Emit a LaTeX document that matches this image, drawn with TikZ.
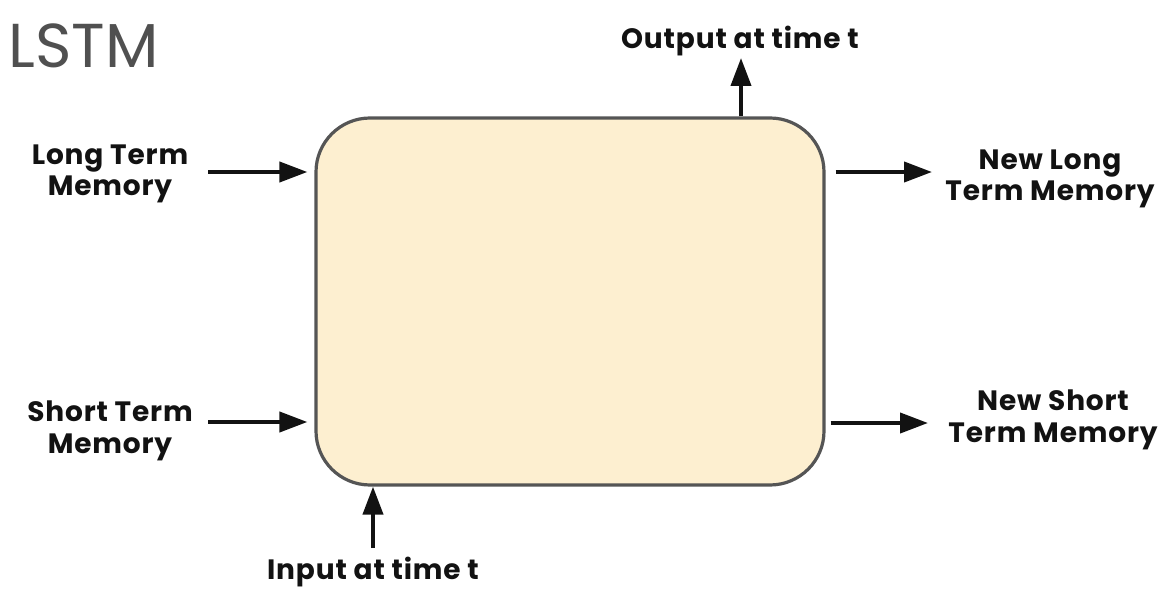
\documentclass[tikz,border=0pt]{standalone}
\usepackage{fontspec}
\setmainfont{Poppins}[LetterSpace=3]
\usepackage{tikz}
\usetikzlibrary{arrows.meta}
\definecolor{boxfill}{HTML}{FDEFD0}
\definecolor{boxline}{HTML}{555555}
\definecolor{titlegray}{HTML}{505050}

\begin{document}
\begin{tikzpicture}[x=0.5pt,y=0.5pt,
  lbl/.style={font=\bfseries\fontsize{14}{15.8}\selectfont, align=center, text=black!93},
  arr/.style={-{Triangle[length=14pt,width=10pt]}, line width=2pt, black!93}]
\useasboundingbox (0,0) rectangle (1163,596);
\node[anchor=base west, inner sep=0pt, text=titlegray, font=\addfontfeature{LetterSpace=0}\fontsize{31}{31}\selectfont] (title) at (8,528) {LSTM};
\node[draw=boxline, fill=boxfill, line width=1.6pt, rounded corners=27pt, minimum width=254pt, minimum height=183.5pt] (box) at (570,294.5) {};
\node[lbl] (ltm) at (110,422) {Long Term\\Memory};
\node[lbl] (stm) at (110,165) {Short Term\\Memory};
\node[lbl] (nltm) at (1050,417) {New Long\\Term Memory};
\node[lbl] (nstm) at (1053,176) {New Short\\Term Memory};
\node[lbl] (out) at (740,555) {Output at time t};
\node[lbl] (inp) at (373,24) {Input at time t};
\coordinate (ltm tail) at (208,424);
\coordinate (stm tail) at (208,174);
\coordinate (nltm tip) at (932,424);
\coordinate (nstm tip) at (928,173);
\coordinate (out tip) at (741,538);
\coordinate (inp tail) at (373,48);
\draw[arr, shorten >=3.5pt] (ltm tail) -- (box.west |- ltm tail);
\draw[arr, shorten >=3.5pt] (stm tail) -- (box.west |- stm tail);
\draw[arr, shorten <=5pt] (box.east |- nltm tip) -- (nltm tip);
\draw[arr, shorten <=2.5pt] (box.east |- nstm tip) -- (nstm tip);
\draw[arr] (box.north -| out tip) -- (out tip);
\draw[arr] (inp tail) -- (box.south -| inp tail);
\end{tikzpicture}
\end{document}
